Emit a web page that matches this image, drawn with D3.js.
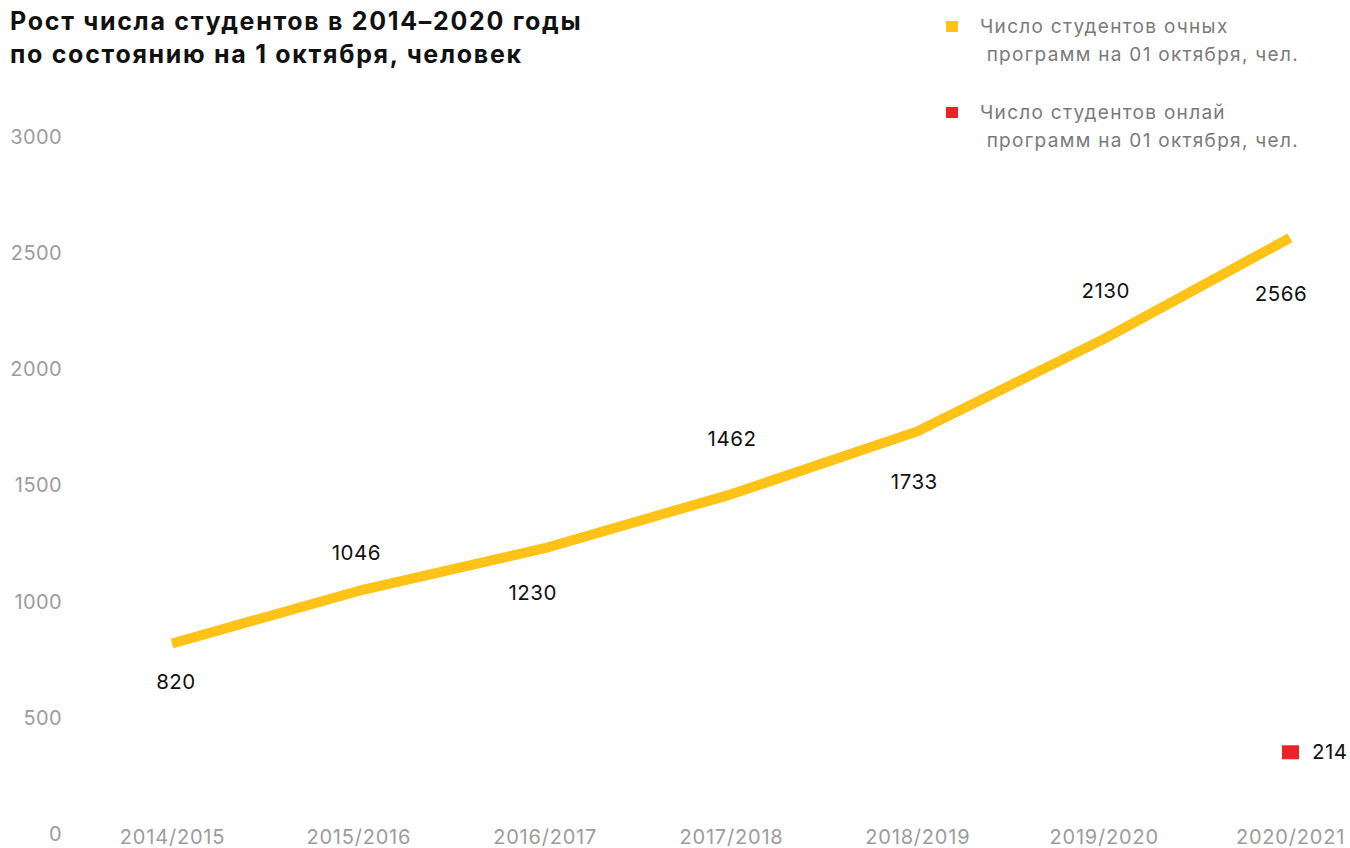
<!DOCTYPE html>
<html lang="ru">
<head>
<meta charset="utf-8">
<script src="https://cdn.jsdelivr.net/npm/d3@7"></script>
<style>
  html, body { margin: 0; padding: 0; background: #fff; }
  svg { display: block; font-family: Inter, Roboto, "Noto Sans", sans-serif; }
</style>
</head>
<body>
<svg id="chart" width="1350" height="848"></svg>
<script>
// Учебные годы (ось X)
const years = ["2014/2015", "2015/2016", "2016/2017", "2017/2018", "2018/2019", "2019/2020", "2020/2021"];
// Число студентов очных программ на 1 октября
const fullTime = [820, 1046, 1230, 1462, 1733, 2130, 2566];
// Число студентов онлайн-программ (есть только за последний год)
const onlineYears = ["2020/2021"];
const online = [214];
// Деления оси Y
const yTicks = [0, 500, 1000, 1500, 2000, 2500, 3000];
// Подписи
const titleLines = ["Рост числа студентов в 2014–2020 годы", "по состоянию на 1 октября, человек"];
const legendItems = [
  ["Число студентов очных", " программ на 01 октября, чел."],
  ["Число студентов онлай", " программ на 01 октября, чел."]
];

// Размещение подписей значений относительно точек линии
const labelDx = [4, -2, -12, 1, -3, 2, -9];
const labelDy = [38, -38, 45, -56, 50, -48, 56];

const YELLOW = "#FFC317";
const RED = "#EC2227";
const FONT = "Inter, Roboto, sans-serif";

const svg = d3.select("#chart");

const x = d3.scalePoint().domain(years).range([172, 1290]);
const y = d3.scaleLinear().domain([0, 3000]).range([834, 137]);

// Заголовок
svg.append("g").selectAll("text").data(titleLines).join("text")
  .attr("x", 10)
  .attr("y", (d, i) => 30 + i * 33)
  .attr("font-size", 25)
  .attr("font-weight", 700)
  .attr("letter-spacing", 1.7)
  .attr("fill", "#111")
  .text(d => d);

// Ось Y: только подписи
const yAxis = svg.append("g")
  .attr("transform", "translate(62,0)")
  .call(d3.axisLeft(y).tickValues(yTicks).tickSize(0).tickPadding(0).tickFormat(d3.format("d")));
yAxis.select(".domain").remove();
yAxis.selectAll("text")
  .attr("font-size", 20)
  .attr("letter-spacing", 0.4)
  .attr("font-family", FONT)
  .attr("fill", "#9c9c9c");

// Ось X: только подписи
const xAxis = svg.append("g")
  .attr("transform", "translate(0,837)")
  .call(d3.axisBottom(x).tickSize(0).tickPadding(0));
xAxis.select(".domain").remove();
xAxis.selectAll("text")
  .attr("dy", "0.35em")
  .attr("font-size", 20)
  .attr("letter-spacing", 0.8)
  .attr("font-family", FONT)
  .attr("fill", "#9c9c9c");

// Линия очных программ
const points = years.map((yr, i) => ({ year: yr, value: fullTime[i] }));
svg.append("path")
  .datum(points)
  .attr("fill", "none")
  .attr("stroke", YELLOW)
  .attr("stroke-width", 10)
  .attr("stroke-linejoin", "round")
  .attr("d", d3.line().x(d => x(d.year)).y(d => y(d.value)));

// Подписи значений
svg.append("g").selectAll("text").data(points).join("text")
  .attr("x", (d, i) => x(d.year) + labelDx[i])
  .attr("y", (d, i) => y(d.value) + labelDy[i])
  .attr("dy", "0.35em")
  .attr("text-anchor", "middle")
  .attr("font-size", 20.5)
  .attr("letter-spacing", 0.5)
  .attr("fill", "#111")
  .text(d => d.value);

// Онлайн-программы: маркер и значение
const onlinePts = onlineYears.map((yr, i) => ({ year: yr, value: online[i] }));
const markerLift = 32;
const om = svg.append("g").selectAll("g").data(onlinePts).join("g")
  .attr("transform", d => `translate(${x(d.year)},${y(d.value) - markerLift})`);
om.append("rect")
  .attr("x", -8).attr("y", -7).attr("width", 17).attr("height", 14)
  .attr("fill", RED);
om.append("text")
  .attr("x", 22).attr("dy", "0.35em")
  .attr("font-size", 20.5)
  .attr("letter-spacing", 0.5)
  .attr("fill", "#111")
  .text(d => d.value);

// Легенда
const legendColors = [YELLOW, RED];
const lg = svg.append("g").selectAll("g").data(legendItems).join("g")
  .attr("transform", (d, i) => `translate(946,${26 + i * 86})`);
lg.append("rect")
  .attr("x", 0).attr("y", -5).attr("width", 12).attr("height", 11)
  .attr("fill", (d, i) => legendColors[i]);
lg.selectAll("text").data(d => d).join("text")
  .attr("x", 34)
  .attr("y", (d, j) => j * 28)
  .attr("dy", "0.35em")
  .attr("font-size", 19)
  .attr("letter-spacing", 1.3)
  .attr("fill", "#7a7a7a")
  .attr("xml:space", "preserve")
  .style("white-space", "pre")
  .text(d => d);
</script>
</body>
</html>
